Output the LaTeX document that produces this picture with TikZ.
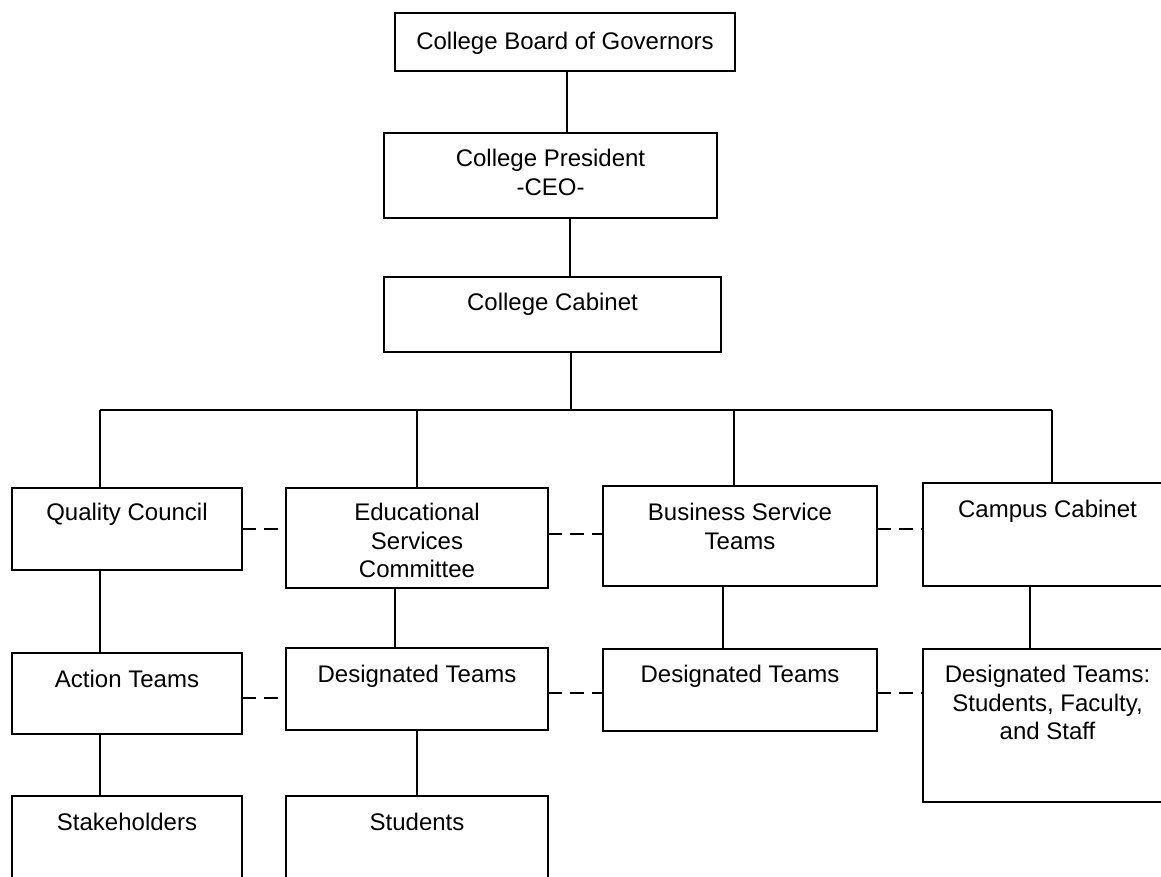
\documentclass[tikz,border=0pt]{standalone}
\usepackage{fontspec}
\setmainfont{Liberation Sans}
\begin{document}
\begin{tikzpicture}[x=1pt,y=-1pt,
  orgbox/.style={draw, line width=1.8pt, inner sep=0pt, outer sep=0pt,
    anchor=north west},
  label text/.style={anchor=north, inner sep=0pt, align=center,
    font=\fontsize{24}{28.5}\selectfont},
  link/.style={line width=1.8pt},
  peer/.style={line width=1.8pt, dash pattern=on 14pt off 8pt}]
\useasboundingbox (0,0) rectangle (1161,877);

% boxes: top-left corner, width, height
\node[orgbox, minimum width=340pt, minimum height=58pt] (board) at (395,13) {};
\node[orgbox, minimum width=333pt, minimum height=85pt] (pres)  at (384,133) {};
\node[orgbox, minimum width=337pt, minimum height=75pt] (cab)   at (384,277) {};

\node[orgbox, minimum width=230pt, minimum height=82pt]  (qc)  at (12,488) {};
\node[orgbox, minimum width=262pt, minimum height=100pt] (esc) at (286,488) {};
\node[orgbox, minimum width=274pt, minimum height=100pt] (bst) at (603,486) {};
\node[orgbox, minimum width=249pt, minimum height=103pt] (cc)  at (923,483) {};

\node[orgbox, minimum width=230pt, minimum height=81pt]  (at)  at (12,653) {};
\node[orgbox, minimum width=262pt, minimum height=82pt]  (dt1) at (286,648) {};
\node[orgbox, minimum width=274pt, minimum height=82pt]  (dt2) at (603,649) {};
\node[orgbox, minimum width=249pt, minimum height=153pt] (dt3) at (923,649) {};

\node[orgbox, minimum width=230pt, minimum height=110pt] (stake) at (12,796) {};
\node[orgbox, minimum width=262pt, minimum height=110pt] (stud)  at (286,796) {};

% box captions, set near the top edge
\node[label text] (tboard) at ([yshift=-19pt]board.north) {College Board of Governors};
\node[label text] (tpres)  at ([yshift=-16pt]pres.north) {College President\\-CEO-};
\node[label text] (tcab)   at ([yshift=-16pt]cab.north) {College Cabinet};
\node[label text] (tqc)    at ([yshift=-15pt]qc.north) {Quality Council};
\node[label text] (tesc)   at ([yshift=-15pt]esc.north) {Educational\\Services\\Committee};
\node[label text] (tbst)   at ([yshift=-17pt]bst.north) {Business Service\\Teams};
\node[label text] (tcc)    at ([yshift=-17pt]cc.north) {Campus Cabinet};
\node[label text] (tat)    at ([yshift=-17pt]at.north) {Action Teams};
\node[label text] (tdt1)   at ([yshift=-17pt]dt1.north) {Designated Teams};
\node[label text] (tdt2)   at ([yshift=-16pt]dt2.north) {Designated Teams};
\node[label text] (tdt3)   at ([yshift=-16pt]dt3.north) {Designated Teams:\\Students, Faculty,\\and Staff};
\node[label text] (tstake) at ([yshift=-17pt]stake.north) {Stakeholders};
\node[label text] (tstud)  at ([yshift=-17pt]stud.north) {Students};

% junctions on the distribution bar
\coordinate (jc) at (571,410);
\coordinate (j1) at (100,410);
\coordinate (j2) at (417,410);
\coordinate (j3) at (734,410);
\coordinate (j4) at (1052,410);

% reporting lines
\draw[link] ([xshift=2pt]board.south) -- ([xshift=16.5pt]pres.north);
\draw[link] ([xshift=19.5pt]pres.south) -- ([xshift=17.5pt]cab.north);
\draw[link] ([xshift=18.5pt]cab.south) -- (jc);
\draw[link] (j1) -- (j4);
\draw[link] (j1) -- (j1 |- qc.north);
\draw[link] (j2) -- (j2 |- esc.north);
\draw[link] (j3) -- (j3 |- bst.north);
\draw[link] (j4) -- (j4 |- cc.north);
\draw[link] ([xshift=-27pt]qc.south) -- ([xshift=-27pt]at.north);
\draw[link] ([xshift=-22pt]esc.south) -- ([xshift=-22pt]dt1.north);
\draw[link] ([xshift=-17pt]bst.south) -- ([xshift=-17pt]dt2.north);
\draw[link] ([xshift=-17.5pt]cc.south) -- ([xshift=-17.5pt]dt3.north);
\draw[link] ([xshift=-27pt]at.south) -- ([xshift=-27pt]stake.north);
\draw[link] (dt1.south) -- (stud.north);

% peer (dashed) links
\draw[peer] (qc.east) -- (qc.east -| esc.west);
\draw[peer] ([yshift=4pt]esc.east) -- ([yshift=2pt]bst.west);
\draw[peer] ([yshift=7pt]bst.east) -- ([yshift=5.5pt]cc.west);
\draw[peer] ([yshift=-4.5pt]at.east) -- ([yshift=-9pt]dt1.west);
\draw[peer] ([yshift=-4pt]dt1.east) -- ([yshift=-3pt]dt2.west);
\draw[peer] ([yshift=-3pt]dt2.east) -- ([yshift=32.5pt]dt3.west);
\end{tikzpicture}
\end{document}
